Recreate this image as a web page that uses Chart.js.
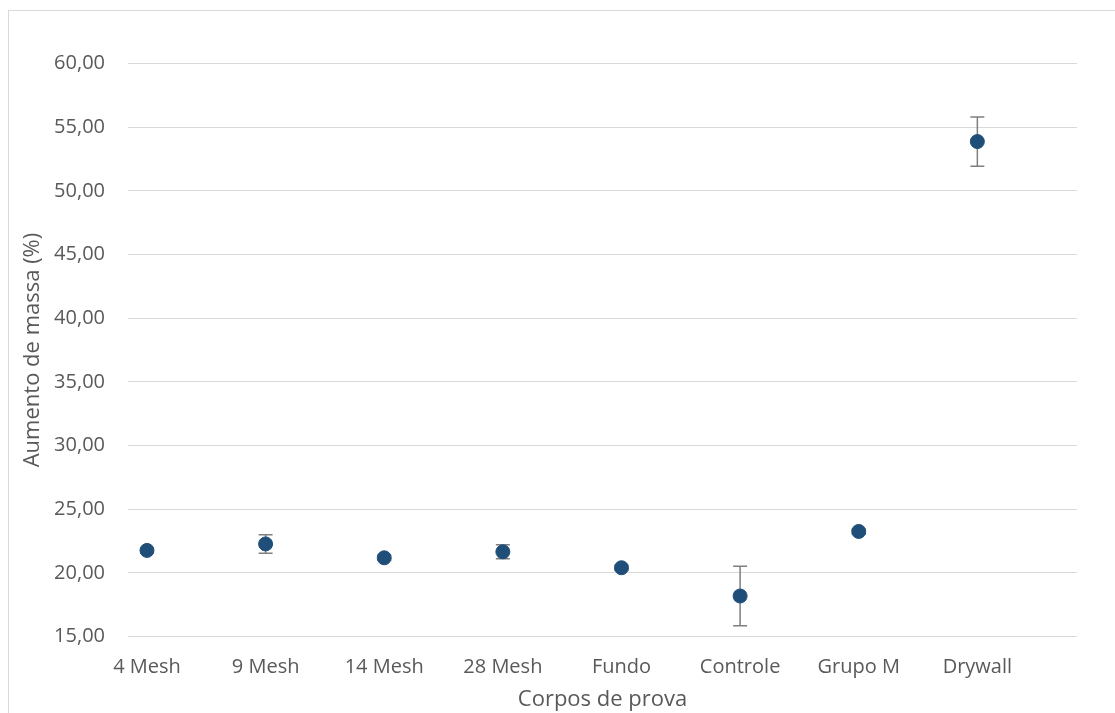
<!DOCTYPE html>
<html>
<head>
<meta charset="utf-8">
<script src="https://cdn.jsdelivr.net/npm/chart.js@4"></script>
<style>
  html, body { margin: 0; padding: 0; background: #fff; overflow: hidden; }
  #frame {
    position: absolute; left: 8px; top: 10px;
    width: 1200px; height: 800px;
    border: 1px solid #d9d9d9;
  }
  #wrap { position: absolute; left: 0; top: 0; width: 1106px; height: 702px; }
</style>
</head>
<body>
<div id="frame">
  <div id="wrap"><canvas id="chart"></canvas></div>
</div>
<script>
// categories and values
const labels = ["4 Mesh", "9 Mesh", "14 Mesh", "28 Mesh", "Fundo", "Controle", "Grupo M", "Drywall"];
const values = [21.76, 22.27, 21.18, 21.65, 20.40, 18.18, 23.25, 53.87];
const errors = [0.20, 0.73, 0.20, 0.55, 0.20, 2.34, 0.20, 1.93];

const fontFamily = "'Open Sans', sans-serif";
const textColor = "#595959";

// draws the vertical error bars with caps, under the markers
const errorBars = {
  id: "errorBars",
  beforeDatasetsDraw(chart) {
    const ctx = chart.ctx;
    const xs = chart.scales.x, ys = chart.scales.y;
    ctx.save();
    ctx.strokeStyle = "#7f7f7f";
    ctx.lineWidth = 1.5;
    values.forEach((v, i) => {
      const x = xs.getPixelForValue(i + 1);
      const top = ys.getPixelForValue(v + errors[i]);
      const bot = ys.getPixelForValue(v - errors[i]);
      ctx.beginPath();
      ctx.moveTo(x, top); ctx.lineTo(x, bot);
      ctx.moveTo(x - 7, top); ctx.lineTo(x + 7, top);
      ctx.moveTo(x - 7, bot); ctx.lineTo(x + 7, bot);
      ctx.stroke();
    });
    ctx.restore();
  }
};

new Chart(document.getElementById("chart"), {
  type: "scatter",
  data: {
    datasets: [{
      data: values.map((v, i) => ({ x: i + 1, y: v })),
      backgroundColor: "#1f4e79",
      borderColor: "#1f4e79",
      pointRadius: 7,
      pointHoverRadius: 7
    }]
  },
  options: {
    responsive: true,
    maintainAspectRatio: false,
    animation: false,
    layout: { padding: { top: 52.5, right: 38, left: 0, bottom: 0 } },
    plugins: { legend: { display: false }, tooltip: { enabled: false } },
    scales: {
      x: {
        type: "linear",
        min: 0.84,
        max: 8.84,
        afterBuildTicks: s => { s.ticks = labels.map((_, i) => ({ value: i + 1 })); },
        afterFit: s => { s.height = 76.5; },
        grid: { display: false },
        border: { display: false },
        ticks: {
          padding: 11,
          color: textColor,
          font: { family: fontFamily, size: 20 },
          maxRotation: 0,
          autoSkip: false,
          callback: v => labels[v - 1] || ""
        },
        title: {
          display: true,
          text: "Corpos de prova",
          color: textColor,
          font: { family: fontFamily, size: 22 },
          padding: { top: 0, bottom: 0 }
        }
      },
      y: {
        min: 15,
        max: 60,
        afterFit: s => { s.width = 119; },
        grid: { color: "#d9d9d9", lineWidth: 1, drawTicks: false },
        border: { display: false },
        ticks: {
          stepSize: 5,
          padding: 23,
          color: textColor,
          font: { family: fontFamily, size: 20 },
          callback: v => v.toFixed(2).replace(".", ",")
        },
        title: {
          display: true,
          text: "Aumento de massa (%)",
          color: textColor,
          font: { family: fontFamily, size: 22 },
          padding: { top: 11, bottom: 0 }
        }
      }
    }
  },
  plugins: [errorBars]
});
</script>
</body>
</html>
